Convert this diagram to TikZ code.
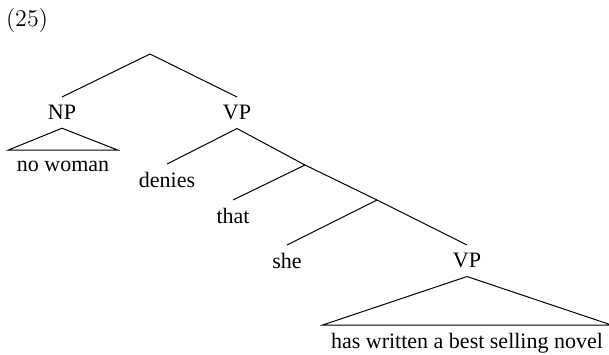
\documentclass[tikz,border=0pt]{standalone}
\usepackage{fontspec}
\newfontfamily\arbrefont{Liberation Serif}
\usepackage{tikz}
\usetikzlibrary{positioning}
\usetikzlibrary{calc}
\tikzstyle{etiq}=[
        inner sep=4pt,
        anchor=north,
        font=\arbrefont\fontsize{11}{13}\selectfont
]
\tikzstyle{mot}=[etiq]
\tikzstyle{branche}=[line width=0.5pt,line join=miter]
\tikzstyle{numero}=[inner sep=0pt,font=\fontsize{12}{14}\selectfont]

\begin{document}
\begin{tikzpicture}[x=0.5pt,y=-0.5pt]
\useasboundingbox (0,0) rectangle (609,354);
\node[numero] (num) at (27,21) {(25)};
\coordinate (s) at (150,54);
\node[etiq] (np) at (62,97) {NP};
\node[etiq] (vp) at (237,97) {VP};
\node[mot,text height=6.5pt] (nw) at (63,150) {no woman};
\node[mot] (denies) at (167,164) {denies};
\coordinate (c1) at (305,165);
\node[mot] (that) at (233,200) {that};
\coordinate (c2) at (377,200);
\node[mot] (she) at (287,245) {she};
\node[etiq] (vpb) at (467,245) {VP};
\node[mot] (novel) at (467,325) {has written a best selling novel};
%Placementdesbranches
\draw[branche] (np.north) -- (s) -- (vp.north);
\draw[branche] (np.south) -- (nw.north west) -- (nw.north east) -- cycle;
\draw[branche] (denies.north) -- (vp.south) -- (c1);
\draw[branche] (that.north) -- (c1) -- (c2);
\draw[branche] (she.north) -- (c2) -- (vpb.north);
\draw[branche] (vpb.south) -- (novel.north west) -- (novel.north east) -- cycle;
\end{tikzpicture}
\end{document}
